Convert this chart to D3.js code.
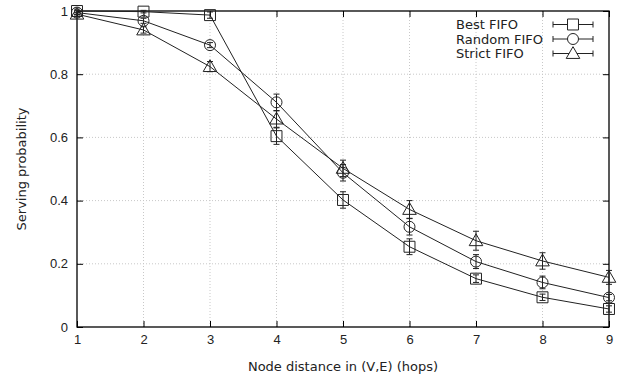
<!DOCTYPE html>
<html>
<head>
<meta charset="utf-8">
<script src="https://cdn.jsdelivr.net/npm/d3@7"></script>
<style>
  body { margin: 0; background: #fff; }
  svg { font-family: "DejaVu Sans", sans-serif; }
</style>
</head>
<body>
<div id="chart"></div>
<script>
// data
const hops = [1, 2, 3, 4, 5, 6, 7, 8, 9];
const bestFifo = [1.0, 0.998, 0.987, 0.604, 0.402, 0.254, 0.153, 0.094, 0.057];
const bestErr = [0.006, 0.004, 0.010, 0.026, 0.026, 0.025, 0.012, 0.010, 0.010];
const randomFifo = [0.995, 0.969, 0.892, 0.711, 0.488, 0.317, 0.207, 0.141, 0.093];
const randomErr = [0.006, 0.008, 0.008, 0.026, 0.026, 0.026, 0.022, 0.020, 0.010];
const strictFifo = [0.99, 0.94, 0.824, 0.658, 0.502, 0.372, 0.273, 0.209, 0.157];
const strictErr = [0.006, 0.010, 0.016, 0.026, 0.026, 0.028, 0.030, 0.026, 0.022];
const yTicks = [0, 0.2, 0.4, 0.6, 0.8, 1];
const seriesNames = ['Best FIFO', 'Random FIFO', 'Strict FIFO'];

const width = 625, height = 377;
const margin = { top: 11, right: 16, bottom: 50, left: 77 };
const w = width - margin.left - margin.right;
const h = height - margin.top - margin.bottom;
const fontSize = '13px';

const svg = d3.select('#chart').append('svg')
  .attr('width', width)
  .attr('height', height);

const g = svg.append('g')
  .attr('transform', 'translate(' + margin.left + ',' + margin.top + ')');

const x = d3.scaleLinear().domain([1, 9]).range([0, w]);
const y = d3.scaleLinear().domain([0, 1]).range([h, 0]);

// dotted grid
g.append('g').selectAll('line.gx')
  .data(hops.slice(1, -1))
  .enter().append('line')
    .attr('x1', d => x(d)).attr('x2', d => x(d))
    .attr('y1', 0).attr('y2', h)
    .attr('stroke', '#c8c8c8').attr('stroke-dasharray', '1,2');
g.append('g').selectAll('line.gy')
  .data(yTicks.slice(1, -1))
  .enter().append('line')
    .attr('y1', d => y(d)).attr('y2', d => y(d))
    .attr('x1', 0).attr('x2', w)
    .attr('stroke', '#c8c8c8').attr('stroke-dasharray', '1,2');

// axes, ticks pointing inward like gnuplot
const fmt = d => d === 0 || d === 1 ? String(d) : d.toFixed(1);
const styleAxis = sel => {
  sel.select('.domain').remove();
  sel.selectAll('line').attr('stroke', '#000');
  sel.selectAll('text').attr('fill', '#222').style('font-size', fontSize);
};

g.append('g')
  .attr('transform', 'translate(0,' + h + ')')
  .call(d3.axisBottom(x).tickValues(hops).tickSize(-6).tickPadding(8))
  .call(styleAxis);
g.append('g')
  .call(d3.axisTop(x).tickValues(hops).tickSize(-6).tickFormat(''))
  .call(styleAxis);
g.append('g')
  .call(d3.axisLeft(y).tickValues(yTicks).tickSize(-6).tickFormat(fmt).tickPadding(9))
  .call(styleAxis);
g.append('g')
  .attr('transform', 'translate(' + w + ',0)')
  .call(d3.axisRight(y).tickValues(yTicks).tickSize(-6).tickFormat(''))
  .call(styleAxis);

g.append('rect')
  .attr('width', w).attr('height', h)
  .attr('fill', 'none').attr('stroke', '#000').attr('stroke-width', 1.3);

svg.append('text')
  .attr('x', margin.left + w / 2).attr('y', 371)
  .attr('text-anchor', 'middle')
  .style('font-size', fontSize).attr('fill', '#222')
  .text('Node distance in (V,E) (hops)');

svg.append('text')
  .attr('transform', 'translate(26,' + (margin.top + h / 2) + ') rotate(-90)')
  .attr('text-anchor', 'middle')
  .style('font-size', fontSize).attr('fill', '#222')
  .text('Serving probability');

// markers
const symbols = [d3.symbolSquare, d3.symbolCircle, d3.symbolTriangle];
const symbolSizes = [120, 95, 80];
const markerPath = i => d3.symbol().type(symbols[i]).size(symbolSizes[i])();

const series = [
  { vals: bestFifo, err: bestErr },
  { vals: randomFifo, err: randomErr },
  { vals: strictFifo, err: strictErr },
];

const line = d3.line().x((d, i) => x(hops[i])).y(d => y(d));

series.forEach((s, si) => {
  const sg = g.append('g');
  sg.append('path')
    .attr('d', line(s.vals))
    .attr('fill', 'none').attr('stroke', '#222').attr('stroke-width', 1);

  const pts = sg.selectAll('g.pt')
    .data(s.vals)
    .enter().append('g')
      .attr('transform', (d, i) => 'translate(' + x(hops[i]) + ',' + y(d) + ')');

  pts.append('line')
    .attr('y1', (d, i) => y(d + s.err[i]) - y(d))
    .attr('y2', (d, i) => y(d - s.err[i]) - y(d))
    .attr('stroke', '#222');
  pts.append('line')
    .attr('x1', -3).attr('x2', 3)
    .attr('y1', (d, i) => y(d + s.err[i]) - y(d))
    .attr('y2', (d, i) => y(d + s.err[i]) - y(d))
    .attr('stroke', '#222');
  pts.append('line')
    .attr('x1', -3).attr('x2', 3)
    .attr('y1', (d, i) => y(d - s.err[i]) - y(d))
    .attr('y2', (d, i) => y(d - s.err[i]) - y(d))
    .attr('stroke', '#222');
  pts.append('path')
    .attr('d', markerPath(si))
    .attr('transform', si === 2 ? 'translate(0,1)' : null)
    .attr('fill', 'none').attr('stroke', '#222').attr('stroke-width', 1);
});

// legend, text left aligned
const legend = svg.append('g');
seriesNames.forEach((name, i) => {
  const ly = 24.5 + i * 14.5;
  legend.append('text')
    .attr('x', 456).attr('y', ly).attr('dy', '0.35em')
    .style('font-size', fontSize).attr('fill', '#222')
    .text(name);
  legend.append('line')
    .attr('x1', 553).attr('x2', 593).attr('y1', ly).attr('y2', ly)
    .attr('stroke', '#222');
  [553, 593].forEach(cx => legend.append('line')
    .attr('x1', cx).attr('x2', cx).attr('y1', ly - 3).attr('y2', ly + 3)
    .attr('stroke', '#222'));
  legend.append('path')
    .attr('d', markerPath(i))
    .attr('transform', 'translate(573,' + (ly + (i === 2 ? 1 : 0)) + ')')
    .attr('fill', '#fff').attr('stroke', '#222');
});
</script>
</body>
</html>
